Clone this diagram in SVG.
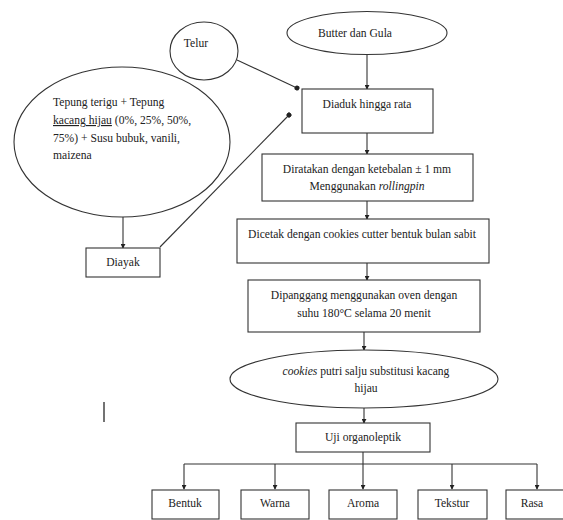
<svg xmlns="http://www.w3.org/2000/svg" width="563" height="520" viewBox="0 0 563 520">
<style>
.s{fill:#fff;stroke:#333;stroke-width:1.1}
.t{font-family:'Liberation Serif','DejaVu Serif',serif;font-size:11.6px;fill:#222}
.m{text-anchor:middle}
.c{stroke:#333;stroke-width:1.1;fill:none}
</style>
<defs>
<marker id="a" viewBox="0 0 6 6" refX="5" refY="3" markerWidth="5" markerHeight="5" orient="auto" markerUnits="userSpaceOnUse">
<path d="M0,0 L6,3 L0,6 z" fill="#222"/>
</marker>
<marker id="d" viewBox="0 0 6 6" refX="3" refY="3" markerWidth="5" markerHeight="5" orient="auto" markerUnits="userSpaceOnUse">
<circle cx="3" cy="3" r="3" fill="#222"/>
</marker>
</defs>
<rect width="563" height="520" fill="#fff"/>
<g id="connectors">
<line class="c" x1="367" y1="55" x2="367" y2="89" marker-end="url(#a)"/>
<line class="c" x1="237" y1="60" x2="297" y2="88" marker-end="url(#d)"/>
<line class="c" x1="160" y1="247" x2="289" y2="115" marker-end="url(#d)"/>
<line class="c" x1="123" y1="217" x2="123" y2="248" marker-end="url(#a)"/>
<line class="c" x1="367" y1="133" x2="367" y2="154" marker-end="url(#a)"/>
<line class="c" x1="367" y1="201" x2="367" y2="219" marker-end="url(#a)"/>
<line class="c" x1="367" y1="263" x2="367" y2="280" marker-end="url(#a)"/>
<line class="c" x1="364" y1="332" x2="364" y2="350" marker-end="url(#a)"/>
<line class="c" x1="364" y1="408" x2="364" y2="423" marker-end="url(#a)"/>
<line class="c" x1="363" y1="452" x2="363" y2="464"/>
<line class="c" x1="184" y1="464" x2="537" y2="464"/>
<line class="c" x1="184" y1="464" x2="184" y2="489" marker-end="url(#a)"/>
<line class="c" x1="275" y1="464" x2="275" y2="489" marker-end="url(#a)"/>
<line class="c" x1="363" y1="464" x2="363" y2="489" marker-end="url(#a)"/>
<line class="c" x1="452" y1="464" x2="452" y2="489" marker-end="url(#a)"/>
<line class="c" x1="537" y1="464" x2="537" y2="489" marker-end="url(#a)"/>
</g>
<g id="butter">
<ellipse class="s" cx="367" cy="33" rx="80" ry="21.5"/>
<text class="t m" x="355" y="37">Butter dan Gula</text>
</g>
<g id="telur">
<ellipse class="s" cx="204" cy="51" rx="34" ry="29"/>
<text class="t m" x="196" y="47">Telur</text>
</g>
<g id="tepung">
<ellipse class="s" cx="122" cy="142" rx="108" ry="75"/>
<text class="t" x="53" y="106">Tepung terigu + Tepung</text>
<text class="t" x="53" y="124"><tspan text-decoration="underline">kacang hijau</tspan> (0%, 25%, 50%,</text>
<text class="t" x="53" y="142">75%) + Susu bubuk, vanili,</text>
<text class="t" x="53" y="159">maizena</text>
</g>
<g id="diayak">
<rect class="s" x="86" y="248" width="74" height="29"/>
<text class="t m" x="123" y="266">Diayak</text>
</g>
<g id="diaduk">
<rect class="s" x="302" y="89" width="131" height="44"/>
<text class="t m" x="367" y="108">Diaduk hingga rata</text>
</g>
<g id="diratakan">
<rect class="s" x="262" y="154" width="211" height="47"/>
<text class="t m" x="367" y="173">Diratakan dengan ketebalan ± 1 mm</text>
<text class="t m" x="367" y="190">Menggunakan <tspan font-style="italic">rollingpin</tspan></text>
</g>
<g id="dicetak">
<rect class="s" x="237" y="219" width="252" height="44"/>
<text class="t m" x="362" y="238">Dicetak dengan cookies cutter bentuk bulan sabit</text>
</g>
<g id="dipanggang">
<rect class="s" x="248" y="280" width="232" height="52"/>
<text class="t m" x="364" y="299">Dipanggang menggunakan oven dengan</text>
<text class="t m" x="364" y="317">suhu 180°C selama 20 menit</text>
</g>
<g id="cookies">
<ellipse class="s" cx="364" cy="379" rx="134" ry="29"/>
<text class="t m" x="366" y="375"><tspan font-style="italic">cookies</tspan> putri salju substitusi kacang</text>
<text class="t m" x="366" y="392">hijau</text>
</g>
<g id="uji">
<rect class="s" x="296" y="423" width="134" height="29"/>
<text class="t m" x="363" y="441">Uji organoleptik</text>
</g>
<g id="bentuk">
<rect class="s" x="152" y="490" width="67" height="29"/>
<text class="t m" x="185" y="507">Bentuk</text>
</g>
<g id="warna">
<rect class="s" x="241" y="490" width="68" height="29"/>
<text class="t m" x="275" y="507">Warna</text>
</g>
<g id="aroma">
<rect class="s" x="329" y="490" width="68" height="29"/>
<text class="t m" x="363" y="507">Aroma</text>
</g>
<g id="tekstur">
<rect class="s" x="418" y="490" width="69" height="29"/>
<text class="t m" x="452" y="507">Tekstur</text>
</g>
<g id="rasa">
<rect class="s" x="506" y="490" width="62" height="29"/>
<text class="t m" x="532" y="507">Rasa</text>
</g>
<line x1="104" y1="402" x2="104" y2="422" stroke="#444" stroke-width="1.5"/>
</svg>
